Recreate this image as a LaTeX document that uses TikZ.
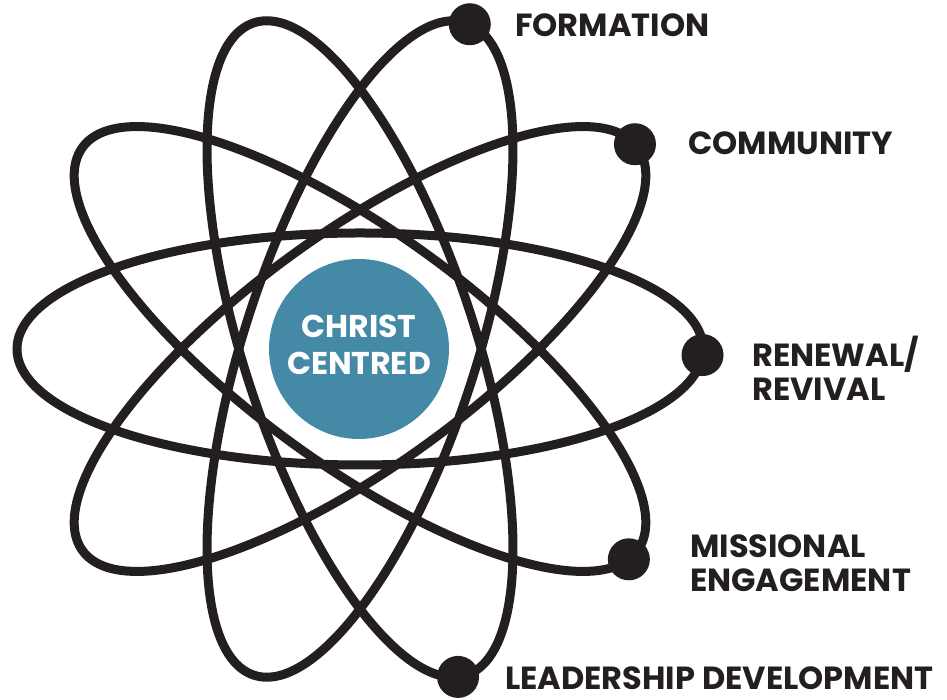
\documentclass[tikz,border=0pt]{standalone}
\usepackage{fontspec}
\setmainfont{Poppins}
\usetikzlibrary{calc}
\definecolor{ink}{HTML}{231F20}
\definecolor{coreteal}{HTML}{4489A6}
\begin{document}
\begin{tikzpicture}[x=1pt,y=1pt,
  orbit/.style={draw=ink, line width=9pt},
  electron/.style={circle, fill=ink, minimum size=42pt, inner sep=0pt},
  lbl/.style={text=ink, font=\fontsize{32}{35}\selectfont\bfseries, anchor=base west, inner sep=0pt},
  coretext/.style={text=white, font=\fontsize{31.5}{34}\selectfont\bfseries, anchor=base, inner sep=0pt}]
\useasboundingbox (0,0) rectangle (947,700);
\coordinate (C) at (360,351);
\foreach \ang/\t/\nm in {0/-3/A, 36/2/B, -36/-6/M, 72/-2/F, -72/-4/L} {
  \begin{scope}[shift={(C)}, rotate=\ang]
    \draw[orbit] (0,0) ellipse [x radius=343, y radius=116];
    \coordinate (dot\nm) at ({343*cos(\t)},{116*sin(\t)});
  \end{scope}
}
\node[electron] (eF) at (dotF) {};
\node[electron] (eB) at (dotB) {};
\node[electron] (eA) at (dotA) {};
\node[electron] (eM) at (dotM) {};
\node[electron] (eL) at (dotL) {};
\node[circle, fill=coreteal, minimum size=180pt, inner sep=0pt] (core) at (359,351) {};
\node[coretext] (c1) at (359,362) {CHRIST};
\node[coretext] (c2) at (359,325) {CENTRED};
\node[lbl] (tF) at (515,663) {FORMATION};
\node[lbl] (tB) at (688,545) {COMMUNITY};
\node[lbl] (tA1) at (752,333) {RENEWAL/};
\node[lbl] (tA2) at (752,299) {REVIVAL};
\node[lbl] (tM1) at (690,142) {MISSIONAL};
\node[lbl] (tM2) at (690,108) {ENGAGEMENT};
\node[lbl] (tL) at (505,10) {LEADERSHIP DEVELOPMENT};
\end{tikzpicture}
\end{document}
